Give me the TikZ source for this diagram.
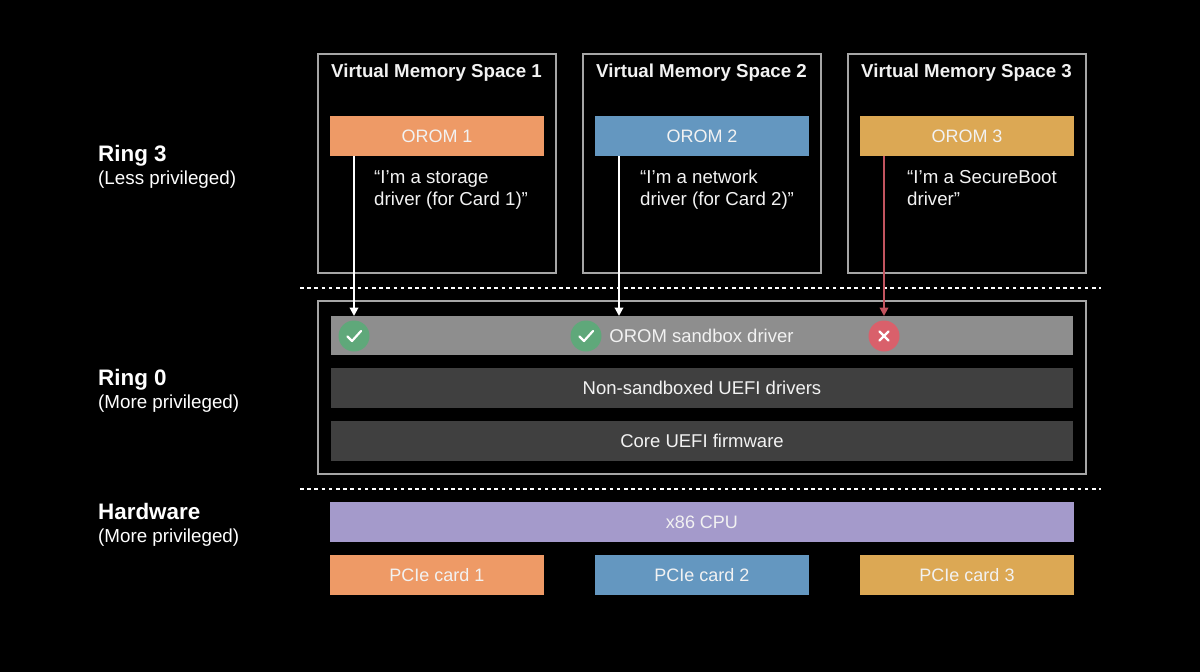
\documentclass[tikz,border=0pt]{standalone}
\usepackage{fontspec}
\setmainfont{Liberation Sans}
\usetikzlibrary{arrows.meta,calc}
\definecolor{frameg}{HTML}{A6A6A6}
\definecolor{orangeb}{HTML}{EE9A66}
\definecolor{blueb}{HTML}{6497C0}
\definecolor{yellowb}{HTML}{DCA854}
\definecolor{greyb}{HTML}{8E8E8E}
\definecolor{darkb}{HTML}{404040}
\definecolor{purpleb}{HTML}{A49ACB}
\definecolor{okg}{HTML}{5FA87A}
\definecolor{badr}{HTML}{D9606B}
\definecolor{arrowr}{HTML}{C2545F}
\definecolor{txt}{HTML}{F2F2F2}
\tikzset{
 x=1pt,y=-1pt,
 framebox/.style={draw=frameg,line width=2pt,fill=black,inner sep=0pt,outer sep=0pt},
 barbox/.style={inner sep=0pt,outer sep=0pt,text=txt,font=\fontsize{18}{22}\selectfont,align=center},
 widebar/.style={barbox,font=\fontsize{18.5}{22}\selectfont},
 vmtitle/.style={inner sep=0pt,text=txt,font=\fontsize{18.7}{21}\selectfont\bfseries,anchor=base},
 quoted/.style={inner sep=0pt,text=txt,font=\fontsize{18.7}{22.2}\selectfont,align=left,anchor=north west},
 ringname/.style={inner sep=0pt,text=white,font=\fontsize{22.4}{25}\selectfont\bfseries,anchor=base west},
 ringsub/.style={inner sep=0pt,text=white,font=\fontsize{18.8}{20}\selectfont,anchor=base west},
 divider/.style={draw=white,line width=2pt,dash pattern=on 3.6pt off 3.6pt},
 conn/.style={line width=2pt,-{Triangle[length=8.5pt,width=8.5pt]}},
 badge/.style={circle,minimum size=31pt,inner sep=0pt,outer sep=0pt},
 tickmark/.style={draw=white,line width=2.2pt,line cap=round,line join=round},
}
\newcommand{\boxnode}[7]{% name,x1,y1,x2,y2,style+fill,text
 \node[#6,minimum width=#4pt-#2pt,minimum height=#5pt-#3pt] (#1) at ({(#2+#4)/2},{(#3+#5)/2}) {#7};}
\begin{document}
\begin{tikzpicture}
\fill[black] (0,0) rectangle (1200,672);
\useasboundingbox (0,0) rectangle (1200,672);
% virtual memory frames
\boxnode{vm1}{318}{54}{556}{273}{framebox}{}
\boxnode{vm2}{583}{54}{821}{273}{framebox}{}
\boxnode{vm3}{848}{54}{1086}{273}{framebox}{}
\node[vmtitle] (t1) at (436.5,77.5) {Virtual Memory Space 1};
\node[vmtitle] (t2) at (701.5,77.5) {Virtual Memory Space 2};
\node[vmtitle] (t3) at (966.5,77.5) {Virtual Memory Space 3};
% OROM bars
\boxnode{orom1}{330}{116}{544}{156}{barbox,fill=orangeb}{OROM 1}
\boxnode{orom2}{595}{116}{809}{156}{barbox,fill=blueb}{OROM 2}
\boxnode{orom3}{860}{116}{1074}{156}{barbox,fill=yellowb}{OROM 3}
\node[quoted] (q1) at (374,170) {“I’m a storage\\driver (for Card 1)”};
\node[quoted] (q2) at (640,170) {“I’m a network\\driver (for Card 2)”};
\node[quoted] (q3) at (907,170) {“I’m a SecureBoot\\driver”};
% ring labels
\node[ringname] (r3) at (98,161) {Ring 3};
\node[ringsub] (r3s) at (98,184) {(Less privileged)};
\node[ringname] (r0) at (98,385) {Ring 0};
\node[ringsub] (r0s) at (98,408.5) {(More privileged)};
\node[ringname] (hw) at (98,519) {Hardware};
\node[ringsub] (hws) at (98,542) {(More privileged)};
% dividers
\coordinate (d1a) at (300,288); \coordinate (d1b) at (1101,288);
\coordinate (d2a) at (300,489); \coordinate (d2b) at (1101,489);
\draw[divider] (d1a) -- (d1b);
\draw[divider] (d2a) -- (d2b);
% ring 0
\boxnode{ring0}{318}{301}{1086}{474}{framebox}{}
\boxnode{sand}{331}{316}{1073}{355}{barbox,fill=greyb}{}
\boxnode{nons}{331}{368}{1073}{407.5}{widebar,fill=darkb}{Non-sandboxed UEFI drivers}
\boxnode{core}{331}{421}{1073}{460.5}{widebar,fill=darkb}{Core UEFI firmware}
\node[widebar] (sandt) at (701.5,336) {OROM sandbox driver};
% badges
\node[badge,fill=okg] (b1) at (354,336) {};
\node[badge,fill=okg] (b2) at (586,336) {};
\node[badge,fill=badr] (b3) at (884,336) {};
\draw[tickmark] ($(b1)+(-6.5,0.5)$) -- ($(b1)+(-2,5)$) -- ($(b1)+(7,-5)$);
\draw[tickmark] ($(b2)+(-6.5,0.5)$) -- ($(b2)+(-2,5)$) -- ($(b2)+(7,-5)$);
\draw[tickmark] ($(b3)+(-4.5,-4.5)$) -- ($(b3)+(4.5,4.5)$);
\draw[tickmark] ($(b3)+(-4.5,4.5)$) -- ($(b3)+(4.5,-4.5)$);
% connectors
\coordinate (s1) at (354,156); \coordinate (e1) at (354,316);
\coordinate (s2) at (619,156); \coordinate (e2) at (619,316);
\coordinate (s3) at (884,156); \coordinate (e3) at (884,316);
\draw[conn,draw=white,fill=white] (s1) -- (e1);
\draw[conn,draw=white,fill=white] (s2) -- (e2);
\draw[conn,draw=arrowr,fill=arrowr] (s3) -- (e3);
% hardware
\boxnode{cpu}{330}{502}{1074}{542}{barbox,fill=purpleb}{x86 CPU}
\boxnode{pcie1}{330}{555}{544}{595}{barbox,fill=orangeb}{PCIe card 1}
\boxnode{pcie2}{595}{555}{809}{595}{barbox,fill=blueb}{PCIe card 2}
\boxnode{pcie3}{860}{555}{1074}{595}{barbox,fill=yellowb}{PCIe card 3}
\end{tikzpicture}
\end{document}
